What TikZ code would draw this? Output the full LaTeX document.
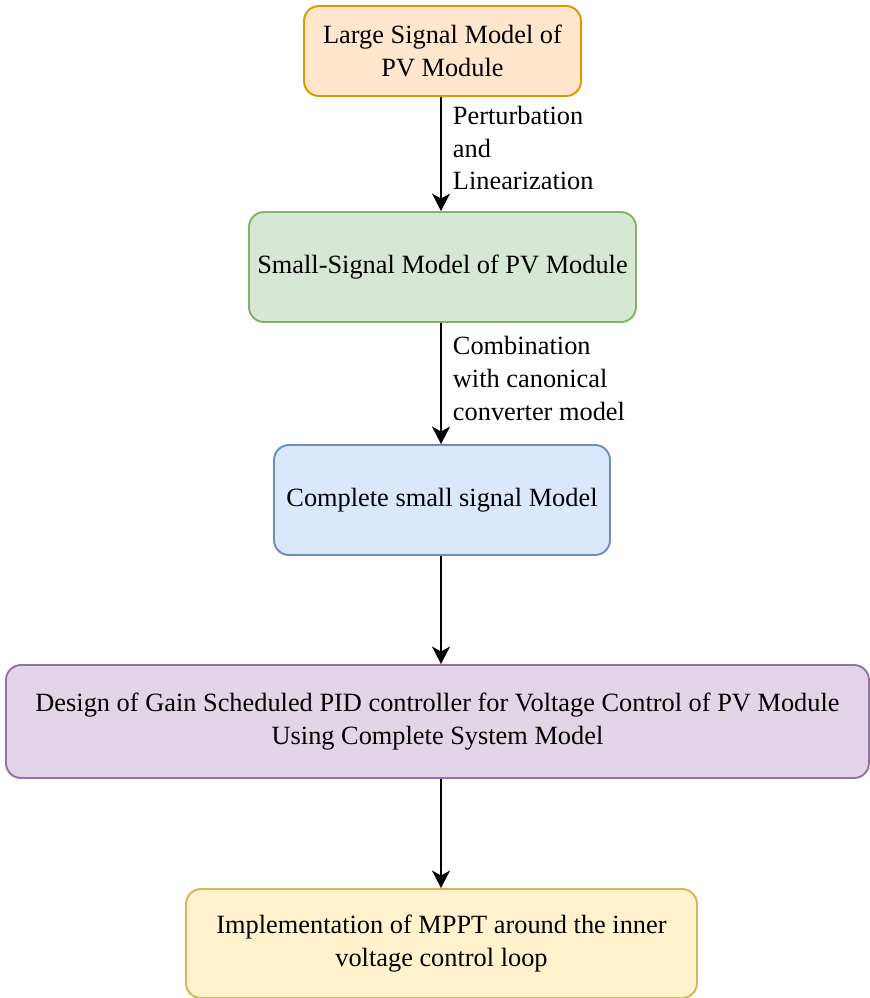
\documentclass[tikz,border=0pt]{standalone}
\usepackage{fontspec}
\setmainfont{Liberation Serif}
\usetikzlibrary{arrows.meta,positioning}
\definecolor{pvorange}{HTML}{FFE6CC}
\definecolor{pvorangeline}{HTML}{D79B00}
\definecolor{pvgreen}{HTML}{D5E8D4}
\definecolor{pvgreenline}{HTML}{82B366}
\definecolor{pvblue}{HTML}{DAE8FC}
\definecolor{pvblueline}{HTML}{6C8EBF}
\definecolor{pvpurple}{HTML}{E1D5E7}
\definecolor{pvpurpleline}{HTML}{9673A6}
\definecolor{pvyellow}{HTML}{FFF2CC}
\definecolor{pvyellowline}{HTML}{D6B656}

\begin{document}
\begin{tikzpicture}[
  stage/.style={rectangle, rounded corners=0.3cm, line width=1.1pt, align=center,
    inner sep=0pt, font=\fontsize{15}{18.7}\selectfont},
  flow/.style={-{Stealth[length=3.5mm,width=3.6mm,inset=1mm]}, line width=1.1pt},
  flowlabel/.style={right, align=left, inner sep=0pt, xshift=0.22cm,
    font=\fontsize{15}{18.7}\selectfont}
]
\useasboundingbox (0,0) rectangle (17.4,-19.96);
% Large signal model
\node[stage, draw=pvorangeline, fill=pvorange, minimum width=5.54cm, minimum height=1.8cm]
  (large) at (8.85,-1.02) {Large Signal Model of\\PV Module};
% Small-signal model
\node[stage, draw=pvgreenline, fill=pvgreen, minimum width=7.74cm, minimum height=2.2cm]
  (small) at (8.85,-5.34) {Small-Signal Model of PV Module};
% Complete model
\node[stage, draw=pvblueline, fill=pvblue, minimum width=6.72cm, minimum height=2.2cm]
  (complete) at (8.84,-10.0) {Complete small signal Model};
% Controller design
\node[stage, draw=pvpurpleline, fill=pvpurple, minimum width=17.26cm, minimum height=2.26cm]
  (design) at (8.75,-14.43)
  {Design of Gain Scheduled PID controller for Voltage Control of PV Module\\Using Complete System Model};
% MPPT
\node[stage, draw=pvyellowline, fill=pvyellow, minimum width=10.22cm, minimum height=2.18cm]
  (mppt) at (8.83,-18.87) {Implementation of MPPT around the inner\\voltage control loop};
% Arrows
\coordinate (x) at (8.82,0);
\draw[flow] (x |- large.south) -- node[flowlabel, yshift=0.12cm] {Perturbation\\and\\Linearization} (x |- small.north);
\draw[flow] (x |- small.south) -- node[flowlabel, yshift=0.1cm] {Combination\\with canonical\\converter model} (x |- complete.north);
\draw[flow] (x |- complete.south) -- (x |- design.north);
\draw[flow] (x |- design.south) -- (x |- mppt.north);
\end{tikzpicture}
\end{document}
